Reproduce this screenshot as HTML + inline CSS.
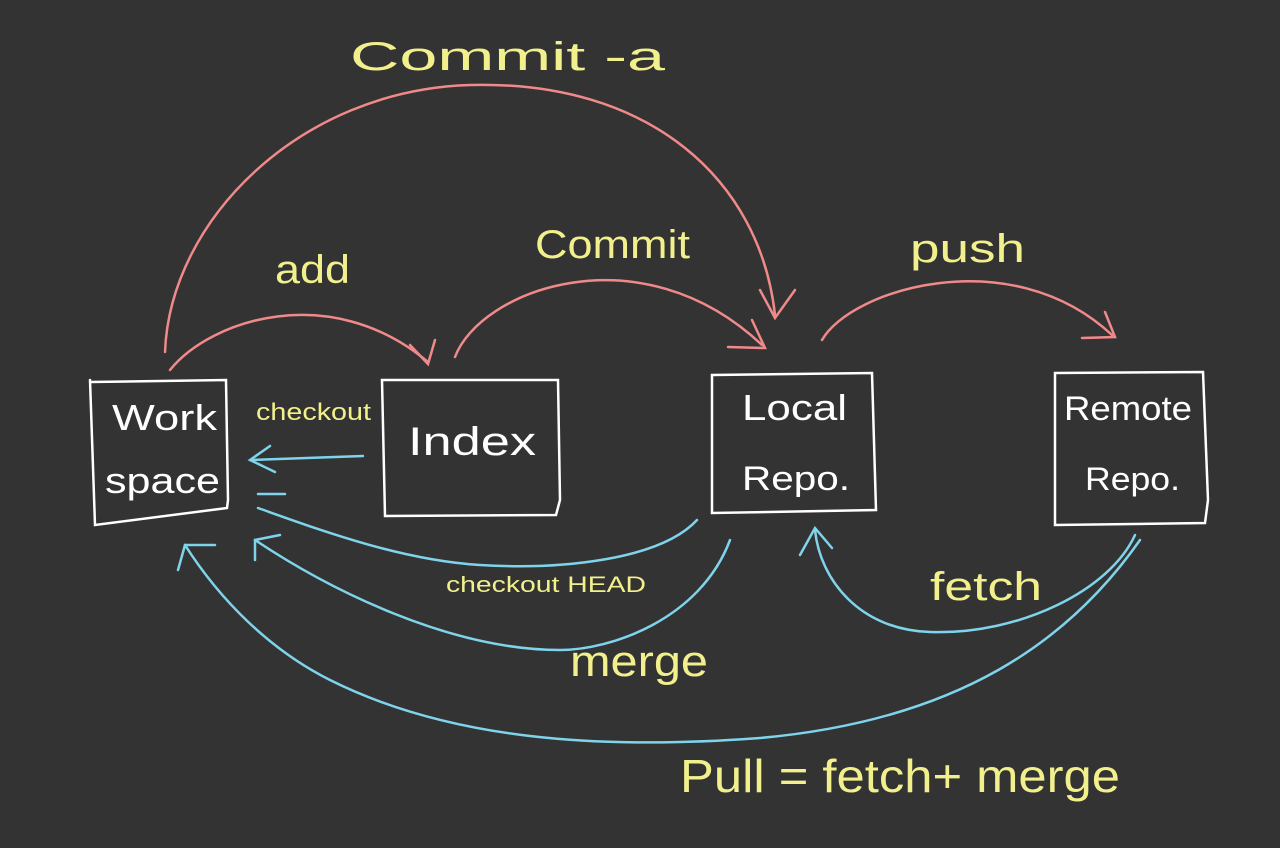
<!DOCTYPE html>
<html><head><meta charset="utf-8"><style>
html,body{margin:0;padding:0;background:#333333;}
svg{display:block}
text{font-family:"Liberation Sans",sans-serif;fill:#f2f08c;}
</style></head><body>
<svg width="1280" height="848" viewBox="0 0 1280 848" xmlns="http://www.w3.org/2000/svg">
<rect width="1280" height="848" fill="#333333"/>
<g fill="none" stroke="#ffffff" stroke-width="2.5" stroke-linecap="round">
<path d="M90 382 L226 380 L228 500 L227 508 L95 525 L90 380"/>
<path d="M382 380 L558 380 L560 500 L556 515 L385 516 Z"/>
<path d="M712 375 L872 373 L876 510 L712 513 Z"/>
<path d="M1055 373 L1203 372 L1208 500 L1205 523 L1055 525 Z"/>
</g>
<g>
<text x="112" y="430" font-size="36" style="fill:#fff" textLength="105" lengthAdjust="spacingAndGlyphs">Work</text>
<text x="105" y="493" font-size="36" style="fill:#fff" textLength="115" lengthAdjust="spacingAndGlyphs">space</text>
<text x="408" y="455" font-size="40" style="fill:#fff" textLength="128" lengthAdjust="spacingAndGlyphs">Index</text>
<text x="742" y="420" font-size="36" style="fill:#fff" textLength="105" lengthAdjust="spacingAndGlyphs">Local</text>
<text x="742" y="490" font-size="34" style="fill:#fff" textLength="108" lengthAdjust="spacingAndGlyphs">Repo.</text>
<text x="1064" y="420" font-size="34" style="fill:#fff" textLength="128" lengthAdjust="spacingAndGlyphs">Remote</text>
<text x="1085" y="490" font-size="32" style="fill:#fff" textLength="95" lengthAdjust="spacingAndGlyphs">Repo.</text>
</g>
<g fill="none" stroke="#f08a8a" stroke-width="2.5" stroke-linecap="round">
<path d="M165 352 C 170 220, 300 90, 470 85 C 650 80, 760 180, 775 315"/>
<path d="M760 290 L775 318 L795 290"/>
<path d="M170 370 C 210 320, 330 280, 428 362"/>
<path d="M410 345 L428 364 L435 340"/>
<path d="M455 357 C 480 290, 640 230, 762 345"/>
<path d="M728 347 L765 348 L752 320"/>
<path d="M822 340 C 850 290, 1010 240, 1112 335"/>
<path d="M1082 338 L1115 337 L1105 312"/>
</g>
<g fill="none" stroke="#7fd4ec" stroke-width="2.5" stroke-linecap="round">
<path d="M363 456 L252 460"/>
<path d="M270 446 L250 460 L275 472"/>
<path d="M697 520 C 660 560, 560 570, 480 565 C 400 560, 320 530, 258 508"/>
<path d="M258 494 L285 494"/>
<path d="M730 540 C 700 620, 610 650, 560 650 C 450 650, 330 590, 255 540"/>
<path d="M255 560 L255 540 L280 535"/>
<path d="M1135 535 C 1110 590, 1020 635, 930 632 C 860 630, 820 580, 815 530"/>
<path d="M800 555 L815 528 L832 548"/>
<path d="M1140 540 C 1070 640, 960 720, 760 738 C 600 750, 450 740, 330 680 C 270 650, 220 600, 185 545"/>
<path d="M178 570 L185 545 L215 545"/>
</g>
<text x="350" y="70" font-size="40" textLength="315" lengthAdjust="spacingAndGlyphs">Commit  -a</text>
<text x="275" y="283" font-size="40" textLength="75" lengthAdjust="spacingAndGlyphs">add</text>
<text x="535" y="258" font-size="40" textLength="155" lengthAdjust="spacingAndGlyphs">Commit</text>
<text x="910" y="262" font-size="40" textLength="115" lengthAdjust="spacingAndGlyphs">push</text>
<text x="256" y="420" font-size="24" textLength="115" lengthAdjust="spacingAndGlyphs">checkout</text>
<text x="446" y="592" font-size="22" textLength="200" lengthAdjust="spacingAndGlyphs">checkout HEAD</text>
<text x="570" y="676" font-size="44" textLength="138" lengthAdjust="spacingAndGlyphs">merge</text>
<text x="930" y="600" font-size="40" textLength="112" lengthAdjust="spacingAndGlyphs">fetch</text>
<text x="680" y="792" font-size="46" textLength="440" lengthAdjust="spacingAndGlyphs">Pull = fetch+ merge</text>
</svg>
</body></html>
